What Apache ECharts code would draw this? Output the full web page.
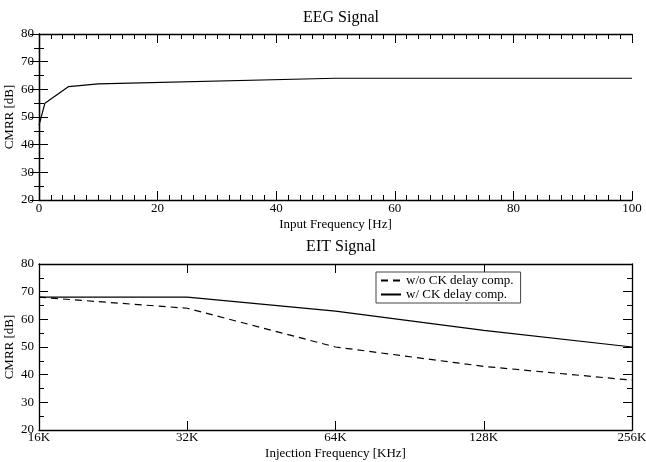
<!DOCTYPE html>
<html><head><meta charset="utf-8">
<script src="https://cdn.jsdelivr.net/npm/echarts@6/dist/echarts.min.js"></script>
<style>html,body{margin:0;padding:0;background:#fff}#c{width:646px;height:462px}</style>
</head><body><div id="c"></div>
<script>
// EEG data
const eegFreq = [0, 1, 5, 10, 50, 100];
const eegCmrr = [47, 55, 61, 62, 64, 64];
// EIT data
const eitCategories = ['16K', '32K', '64K', '128K', '256K'];
const eitWithout = [68, 64, 50, 43, 38];
const eitWith = [68, 68, 63, 56, 50];
const seriesNames = ['w/o CK delay comp.', 'w/ CK delay comp.'];

const FONT = 'Liberation Serif';
const txt = {fontFamily: FONT, color: '#000', fontSize: 13};
const axLine = {show: true, lineStyle: {color: '#000', width: 1.3}};
const nameStyle = {fontFamily: FONT, fontSize: 13, color: '#000'};

function yAx(grid, pos, labels, name) {
  return {
    type: 'value', gridIndex: grid, position: pos, min: 20, max: 80, interval: 10,
    name: name || '', nameLocation: 'middle', nameGap: 23, nameMoveOverlap: false, nameTextStyle: nameStyle,
    axisLine: axLine,
    axisTick: {show: true, inside: true, length: 9, lineStyle: {color: '#000'}},
    minorTick: {show: true, splitNumber: 2, length: 5, lineStyle: {color: '#000'}},
    axisLabel: Object.assign({show: labels, margin: 5}, txt),
    splitLine: {show: false}
  };
}

const option = {
  animation: false,
  backgroundColor: '#fff',
  title: [
    {text: 'EEG Signal', left: 336, top: 5, textAlign: 'center', textStyle: {fontFamily: FONT, fontSize: 16, fontWeight: 'normal', color: '#000'}},
    {text: 'EIT Signal', left: 336, top: 234, textAlign: 'center', textStyle: {fontFamily: FONT, fontSize: 16, fontWeight: 'normal', color: '#000'}}
  ],
  grid: [
    {left: 39, top: 34, width: 593, height: 166, outerBoundsMode: 'none', containLabel: false},
    {left: 39, top: 264, width: 593, height: 166, outerBoundsMode: 'none', containLabel: false}
  ],
  legend: {
    orient: 'vertical', left: 376, top: 272,
    data: seriesNames,
    borderColor: '#444', borderWidth: 1, padding: [2, 7, 2, 4],
    itemWidth: 20, itemHeight: 10, itemGap: 1,
    itemStyle: {opacity: 0},
    textStyle: {fontFamily: FONT, fontSize: 13, color: '#000'},
    backgroundColor: '#fff'
  },
  xAxis: [
    {type: 'value', gridIndex: 0, position: 'bottom', min: 0, max: 100, interval: 20,
     name: 'Input Frequency [Hz]', nameLocation: 'middle', nameGap: 18,
     nameTextStyle: nameStyle,
     axisLine: axLine,
     axisTick: {show: true, inside: true, length: 9, lineStyle: {color: '#000'}},
     minorTick: {show: true, splitNumber: 10, length: 5, lineStyle: {color: '#000'}},
     axisLabel: Object.assign({margin: 2}, txt), splitLine: {show: false}},
    {type: 'value', gridIndex: 0, position: 'top', min: 0, max: 100, interval: 20,
     axisLine: axLine,
     axisTick: {show: true, inside: true, length: 9, lineStyle: {color: '#000'}},
     minorTick: {show: true, splitNumber: 10, length: 5, lineStyle: {color: '#000'}},
     axisLabel: {show: false}, splitLine: {show: false}},
    {type: 'category', gridIndex: 1, position: 'bottom', data: eitCategories, boundaryGap: false,
     name: 'Injection Frequency [KHz]', nameLocation: 'middle', nameGap: 17,
     nameTextStyle: nameStyle,
     axisLine: axLine,
     axisTick: {show: true, inside: true, length: 9, lineStyle: {color: '#000'}},
     axisLabel: Object.assign({margin: 1}, txt), splitLine: {show: false}},
    {type: 'category', gridIndex: 1, position: 'top', data: eitCategories, boundaryGap: false,
     axisLine: axLine,
     axisTick: {show: true, inside: true, length: 9, lineStyle: {color: '#000'}},
     axisLabel: {show: false}, splitLine: {show: false}}
  ],
  yAxis: [
    yAx(0, 'left', true, 'CMRR [dB]'),
    yAx(0, 'right', false),
    yAx(1, 'left', true, 'CMRR [dB]'),
    yAx(1, 'right', false)
  ],
  series: [
    {type: 'line', xAxisIndex: 0, yAxisIndex: 0, data: eegFreq.map((f, i) => [f, eegCmrr[i]]),
     symbol: 'none', lineStyle: {color: '#000', width: 1.2}, itemStyle: {color: '#000'}},
    {name: seriesNames[0], type: 'line', xAxisIndex: 2, yAxisIndex: 2, data: eitWithout,
     symbol: 'none', lineStyle: {color: '#000', width: 1.2, type: [7, 5]}, itemStyle: {color: '#000'}},
    {name: seriesNames[1], type: 'line', xAxisIndex: 2, yAxisIndex: 2, data: eitWith,
     symbol: 'none', lineStyle: {color: '#000', width: 1.2}, itemStyle: {color: '#000'}}
  ]
};
const chart = echarts.init(document.getElementById('c'), null, {renderer: 'canvas'});
chart.setOption(option);
</script></body></html>
